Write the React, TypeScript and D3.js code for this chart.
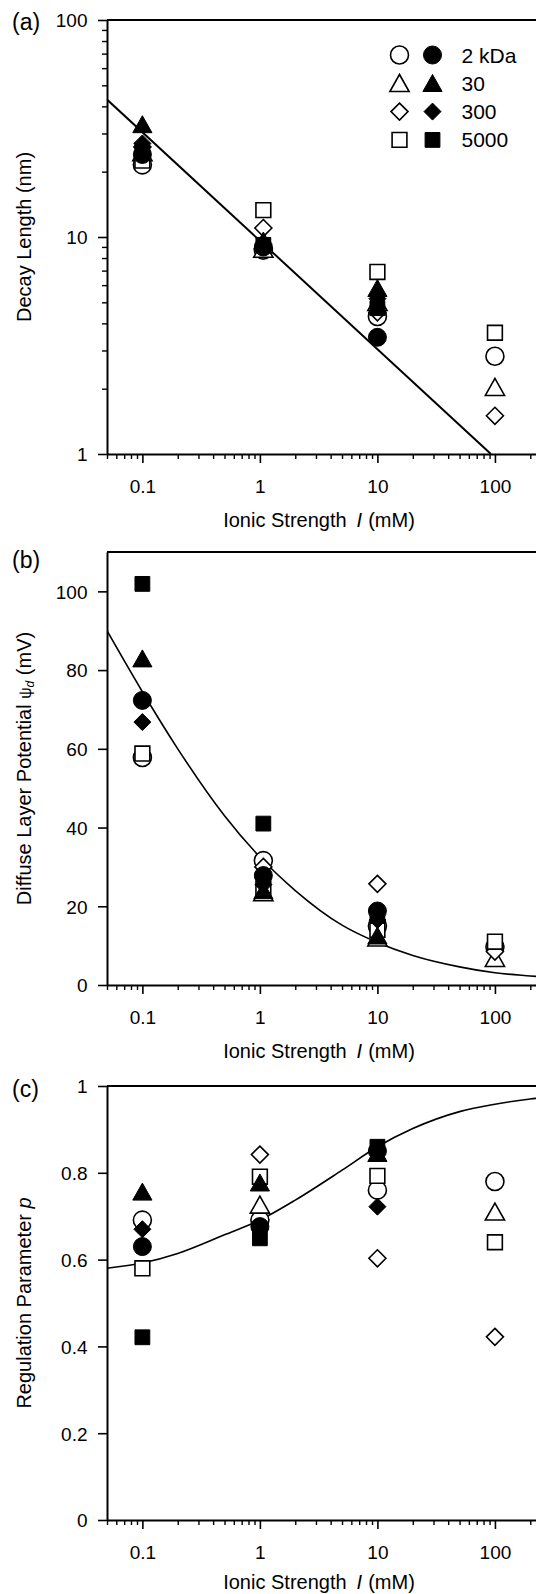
import { useEffect, useRef } from "react";
import * as d3 from "d3";

const WIDTH = 536;
const HEIGHT = 1594;
const FONT = "'Liberation Sans', Arial, Helvetica, sans-serif";

// series (molecular weight) and their marker shapes
const seriesNames = ["2 kDa", "30", "300", "5000"];
const seriesShapes = ["circle", "triangle", "diamond", "square"];

// ionic strength (mM) of the measurements
const ionicStrengthAB = [0.1, 1.07, 10, 100];
const ionicStrengthC = [0.1, 1, 10, 100];

// (a) decay length (nm), rows follow seriesNames
const decayOpen = [
  [21.5, 8.7, 4.3, 2.82],
  [24.5, 8.8, 5.0, 2.03],
  [26, 11, 4.5, 1.5],
  [22.5, 13.3, 6.9, 3.62],
];
const decayFilled = [
  [24, 9.0, 3.45, null],
  [33, 9.6, 5.8, null],
  [27, 9.2, 5.2, null],
  [25, 9.2, 4.7, null],
];

// (b) diffuse layer potential (mV)
const potentialOpen = [
  [57.8, 31.6, 15, 9.7],
  [null, 23.5, 12, 6.8],
  [null, 30, 25.7, 8.5],
  [58.8, 24.5, 14, 11],
];
const potentialFilled = [
  [72.3, 27.8, 18.8, null],
  [82.9, 24, 12.5, null],
  [66.8, 25.5, 16.5, null],
  [101.9, 41, 17.5, null],
];

// (c) regulation parameter p
const regulationOpen = [
  [0.691, 0.691, 0.76, 0.78],
  [null, 0.726, null, 0.71],
  [null, 0.842, 0.603, 0.422],
  [0.58, 0.791, 0.793, 0.64],
];
const regulationFilled = [
  [0.63, 0.676, 0.85, null],
  [0.756, 0.777, 0.845, null],
  [0.67, 0.67, 0.722, null],
  [0.421, 0.649, 0.86, null],
];

// model curves
const fitAX = [0.05, 92.4];
const fitAY = [43, 1];
const fitX = [0.05, 0.1, 0.2, 0.5, 1, 2, 5, 10, 20, 50, 100, 200, 300];
const fitBY = [90, 74.5, 60, 43, 32.5, 24, 15.2, 10.8, 7.5, 4.6, 3.1, 2.3, 1.9];
const fitCY = [0.58, 0.592, 0.614, 0.657, 0.691, 0.737, 0.806, 0.86, 0.902, 0.941, 0.958, 0.97, 0.975];

// ticks
const xTickValues = [0.1, 1, 10, 100];
const xTickLabels = ["0.1", "1", "10", "100"];
const decayTicks = [1, 10, 100];
const decayTickLabels = ["1", "10", "100"];
const potentialTicks = [0, 20, 40, 60, 80, 100];
const potentialTickLabels = ["0", "20", "40", "60", "80", "100"];
const regulationTicks = [0, 0.2, 0.4, 0.6, 0.8, 1];
const regulationTickLabels = ["0", "0.2", "0.4", "0.6", "0.8", "1"];

const LEFT = 107;
const RIGHT = 551;

function logMinors(min: number, max: number, majors: number[]) {
  const out: number[] = [];
  for (let d = 0.01; d <= 1000; d *= 10) {
    for (let k = 2; k <= 9; k++) {
      const v = +(k * d).toPrecision(3);
      if (v >= min && v <= max && !majors.includes(v)) out.push(v);
    }
  }
  return out;
}

function markerPath(shape: string, cx: number, cy: number) {
  const p = d3.path();
  if (shape === "circle") {
    p.moveTo(cx + 9, cy);
    p.arc(cx, cy, 9, 0, Math.PI * 2);
  } else if (shape === "triangle") {
    p.moveTo(cx, cy - 8.8);
    p.lineTo(cx + 9.6, cy + 8.2);
    p.lineTo(cx - 9.6, cy + 8.2);
  } else if (shape === "diamond") {
    p.moveTo(cx, cy - 8.5);
    p.lineTo(cx + 8.5, cy);
    p.lineTo(cx, cy + 8.5);
    p.lineTo(cx - 8.5, cy);
  } else {
    p.rect(cx - 7.4, cy - 7.4, 14.8, 14.8);
  }
  p.closePath();
  return p.toString();
}

export default function App() {
  const ref = useRef<SVGSVGElement>(null);

  useEffect(() => {
    const svg = d3.select(ref.current);
    svg.selectAll("*").remove();

    const x = d3.scaleLog().domain([0.05, 300]).range([LEFT, RIGHT]);
    const xMinors = logMinors(0.05, 300, xTickValues);

    const panels = [
      {
        id: "a", top: 20, bottom: 454, label: "(a)", labelY: 30, titleOffset: 73,
        y: d3.scaleLog().domain([1, 100]).range([454, 20]),
        ticks: decayTicks, tickLabels: decayTickLabels,
        minors: logMinors(1, 100, decayTicks),
        xs: ionicStrengthAB, open: decayOpen, filled: decayFilled,
        fitX: fitAX, fitY: fitAY, fitWidth: 2,
      },
      {
        id: "b", top: 552, bottom: 985, label: "(b)", labelY: 568, titleOffset: 73,
        y: d3.scaleLinear().domain([0, 110]).range([985, 552]),
        ticks: potentialTicks, tickLabels: potentialTickLabels, minors: [] as number[],
        xs: ionicStrengthAB, open: potentialOpen, filled: potentialFilled,
        fitX: fitX, fitY: fitBY, fitWidth: 1.6,
      },
      {
        id: "c", top: 1086, bottom: 1520, label: "(c)", labelY: 1097, titleOffset: 69,
        y: d3.scaleLinear().domain([0, 1]).range([1520, 1086]),
        ticks: regulationTicks, tickLabels: regulationTickLabels, minors: [] as number[],
        xs: ionicStrengthC, open: regulationOpen, filled: regulationFilled,
        fitX: fitX, fitY: fitCY, fitWidth: 1.6,
      },
    ];

    panels.forEach((pn) => {
      const g = svg.append("g");
      const y = pn.y as any;

      g.append("clipPath")
        .attr("id", "clip-" + pn.id)
        .append("rect")
        .attr("x", LEFT)
        .attr("y", pn.top)
        .attr("width", RIGHT - LEFT)
        .attr("height", pn.bottom - pn.top);

      // x axis: majors + minors
      const xAxis = d3
        .axisBottom(x)
        .tickValues(xTickValues)
        .tickSize(9)
        .tickSizeOuter(0)
        .tickFormat((_d, i) => xTickLabels[i]);
      g.append("g")
        .attr("transform", `translate(0,${pn.bottom})`)
        .call(xAxis)
        .call((s) => s.select(".domain").attr("stroke-width", 2))
        .call((s) => s.selectAll(".tick line").attr("stroke-width", 1.6))
        .call((s) =>
          s.selectAll(".tick text")
            .attr("y", 38.5)
            .attr("dy", null)
            .attr("font-size", 19)
            .attr("font-family", FONT)
            .attr("fill", "#000")
        );
      g.append("g")
        .attr("transform", `translate(0,${pn.bottom})`)
        .call(d3.axisBottom(x).tickValues(xMinors).tickSize(5).tickFormat(() => ""))
        .call((s) => s.select(".domain").remove())
        .call((s) => s.selectAll(".tick line").attr("stroke-width", 1.4));

      // y axis
      const yAxis = d3
        .axisLeft(y)
        .tickValues(pn.ticks)
        .tickSize(9)
        .tickSizeOuter(0)
        .tickPadding(10.5)
        .tickFormat((_d: any, i: number) => pn.tickLabels[i]);
      g.append("g")
        .attr("transform", `translate(${LEFT},0)`)
        .call(yAxis)
        .call((s) => s.select(".domain").attr("stroke-width", 2))
        .call((s) => s.selectAll(".tick line").attr("stroke-width", 1.6))
        .call((s) =>
          s.selectAll(".tick text")
            .attr("dy", "0.36em")
            .attr("font-size", 19)
            .attr("font-family", FONT)
            .attr("fill", "#000")
        );
      if (pn.minors.length) {
        g.append("g")
          .attr("transform", `translate(${LEFT},0)`)
          .call(d3.axisLeft(y).tickValues(pn.minors).tickSize(5).tickFormat(() => ""))
          .call((s) => s.select(".domain").remove())
          .call((s) => s.selectAll(".tick line").attr("stroke-width", 1.4));
      }

      // top frame line
      g.append("line")
        .attr("x1", LEFT)
        .attr("x2", RIGHT)
        .attr("y1", pn.top)
        .attr("y2", pn.top)
        .attr("stroke", "#000")
        .attr("stroke-width", 2);

      // model curve
      const pts = pn.fitX.map((v, i) => [v, pn.fitY[i]] as [number, number]);
      const line = d3
        .line<[number, number]>()
        .x((d) => x(d[0]))
        .y((d) => y(d[1]))
        .curve(d3.curveMonotoneX);
      g.append("path")
        .datum(pts)
        .attr("clip-path", `url(#clip-${pn.id})`)
        .attr("fill", "none")
        .attr("stroke", "#000")
        .attr("stroke-width", pn.fitWidth)
        .attr("d", line);

      // markers: open first, filled on top
      const drawSet = (rows: (number | null)[][], filled: boolean) => {
        rows.forEach((row, si) => {
          row.forEach((v, xi) => {
            if (v == null) return;
            g.append("path")
              .attr("d", markerPath(seriesShapes[si], x(pn.xs[xi]), y(v)))
              .attr("fill", filled ? "#000" : "#fff")
              .attr("stroke", "#000")
              .attr("stroke-width", filled ? 1 : 1.6);
          });
        });
      };
      drawSet(pn.open, false);
      drawSet(pn.filled, true);

      // panel label
      g.append("text")
        .attr("x", 12)
        .attr("y", pn.labelY)
        .attr("font-size", 23)
        .attr("font-family", FONT)
        .text(pn.label);

      // x title
      const xt = g.append("text")
        .attr("x", 319)
        .attr("y", pn.bottom + pn.titleOffset)
        .attr("text-anchor", "middle")
        .attr("font-size", 20)
        .attr("font-family", FONT);
      xt.append("tspan").text("Ionic Strength");
      xt.append("tspan").attr("dx", 10).attr("font-style", "italic").text("I");
      xt.append("tspan").attr("dx", 6).text("(mM)");

      // y title
      const yt = g.append("text")
        .attr("transform", "rotate(-90)")
        .attr("x", -(pn.top + pn.bottom) / 2)
        .attr("y", 31)
        .attr("text-anchor", "middle")
        .attr("font-size", 20)
        .attr("font-family", FONT);
      if (pn.id === "a") {
        yt.text("Decay Length (nm)");
      } else if (pn.id === "b") {
        yt.append("tspan").text("Diffuse Layer Potential ");
        yt.append("tspan").attr("font-size", 16).text("ψ");
        yt.append("tspan").attr("font-size", 12).attr("font-style", "italic").attr("dy", 3).text("d");
        yt.append("tspan").attr("dy", -3).text(" (mV)");
      } else {
        yt.append("tspan").text("Regulation Parameter ");
        yt.append("tspan").attr("font-style", "italic").text("p");
      }
    });

    // legend in panel (a)
    const lg = svg.append("g");
    seriesNames.forEach((name, i) => {
      const cy = 55 + i * 28.3;
      lg.append("path")
        .attr("d", markerPath(seriesShapes[i], 399.5, cy))
        .attr("fill", "#fff")
        .attr("stroke", "#000")
        .attr("stroke-width", 1.6);
      lg.append("path")
        .attr("d", markerPath(seriesShapes[i], 432.5, cy))
        .attr("fill", "#000")
        .attr("stroke", "#000")
        .attr("stroke-width", 1);
      lg.append("text")
        .attr("x", 461.5)
        .attr("y", cy)
        .attr("dy", "0.36em")
        .attr("font-size", 21)
        .attr("font-family", FONT)
        .text(name);
    });
  }, []);

  return (
    <svg
      ref={ref}
      width={WIDTH}
      height={HEIGHT}
      style={{ position: "absolute", left: 0, top: 0, background: "#fff" }}
    />
  );
}
